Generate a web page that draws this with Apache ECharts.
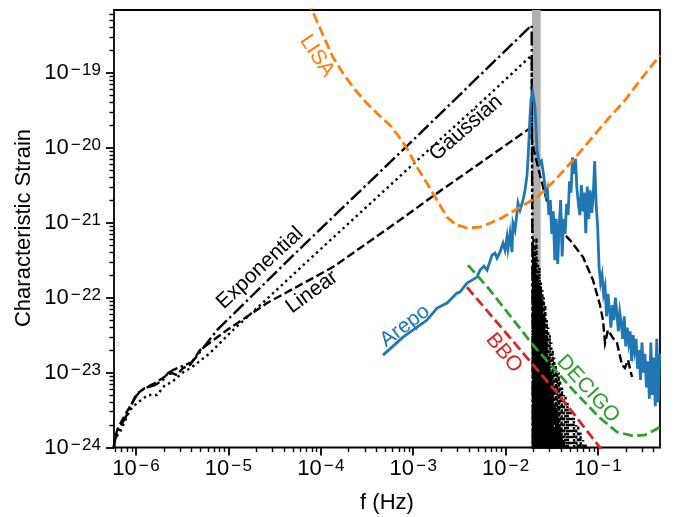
<!DOCTYPE html>
<html>
<head>
<meta charset="utf-8">
<script src="https://cdn.jsdelivr.net/npm/echarts@6/dist/echarts.min.js"></script>
<style>
html, body { margin: 0; padding: 0; background: #fff; }
#main { width: 676px; height: 517px; }
</style>
</head>
<body>
<div id="main"></div>
<script>
// every value below is a log10: f in Hz, h = characteristic strain
var xTicks = [-6, -5, -4, -3, -2, -1];
var yTicks = [-24, -23, -22, -21, -20, -19];
var xRange = [-6.238, -0.329];
var yRange = [-24, -18.163];

// grey band round the peak
var bandF = [-1.714, -1.620];

// Exponential (dash-dot)
var expRiseF = [-6.24, -6.227, -6.173, -6.087, -6.011, -5.935, -5.870, -5.794, -5.708, -5.654, -5.600, -5.470, -5.394, -5.307, -5.123, -4.225, -3.013, -2.277, -1.718];
var expRiseH = [-24.0, -23.90, -23.727, -23.54, -23.327, -23.233, -23.193, -23.167, -23.10, -23.007, -22.967, -22.90, -22.86, -22.727, -22.433, -21.348, -19.913, -19.033, -18.367];
var expTailF = [-1.714, -1.710, -1.706, -1.702, -1.698, -1.694, -1.690, -1.686, -1.682, -1.678, -1.674, -1.670, -1.666, -1.662, -1.658, -1.654, -1.650, -1.646, -1.642, -1.638, -1.634, -1.630, -1.626, -1.622, -1.618, -1.614, -1.610, -1.606, -1.602, -1.598, -1.594, -1.590, -1.586, -1.582, -1.578, -1.574, -1.570, -1.566, -1.562, -1.558, -1.554, -1.550, -1.546, -1.542, -1.538, -1.534, -1.530, -1.526, -1.522, -1.518, -1.512, -1.506, -1.500, -1.494, -1.488, -1.482, -1.476, -1.468, -1.460, -1.452, -1.444, -1.436, -1.426, -1.416, -1.406, -1.396, -1.384, -1.372, -1.360, -1.345, -1.330];
var expTailH = [-20.2, -21.3, -24.5, -21.4, -23.9, -21.5, -24.6, -21.6, -23.5, -21.5, -24.4, -21.7, -24.6, -21.8, -23.8, -21.7, -24.5, -21.9, -24.2, -21.8, -24.6, -22.0, -23.7, -21.9, -24.5, -22.1, -24.3, -22.0, -24.6, -22.2, -23.9, -22.3, -24.5, -22.2, -24.1, -22.5, -24.6, -22.6, -24.0, -22.5, -24.5, -22.8, -24.2, -22.9, -24.6, -22.8, -24.3, -23.0, -24.5, -23.1, -24.4, -23.0, -24.6, -23.3, -24.2, -23.2, -24.5, -23.4, -24.3, -23.5, -24.6, -23.6, -24.4, -23.7, -24.5, -23.8, -24.4, -23.9, -24.5, -24.0, -24.5];

// Gaussian (dotted)
var gauRiseF = [-6.24, -6.227, -6.173, -6.065, -5.989, -5.870, -5.773, -5.686, -5.610, -5.502, -5.394, -5.199, -4.950, -4.582, -4.225, -3.684, -3.013, -2.277, -1.718];
var gauRiseH = [-24.0, -23.873, -23.793, -23.50, -23.407, -23.30, -23.30, -23.167, -23.127, -23.007, -22.927, -22.74, -22.433, -22.017, -21.607, -20.993, -20.233, -19.407, -18.767];
var gauTailF = [-1.714, -1.710, -1.704, -1.698, -1.690, -1.682, -1.674, -1.666, -1.658, -1.650, -1.642, -1.634, -1.626, -1.618, -1.610, -1.602, -1.594, -1.586, -1.578, -1.570, -1.562, -1.554, -1.546, -1.538, -1.530, -1.522, -1.514, -1.506, -1.498, -1.490, -1.482, -1.474, -1.466, -1.458, -1.450, -1.442, -1.434, -1.426, -1.418, -1.410, -1.400, -1.390, -1.380, -1.370, -1.360, -1.350, -1.340, -1.330, -1.320, -1.310, -1.298, -1.286, -1.274, -1.262, -1.250, -1.238, -1.226, -1.214, -1.202, -1.190, -1.176, -1.162, -1.148, -1.134, -1.120, -1.105, -1.090];
var gauTailH = [-20.0, -21.0, -24.5, -21.2, -24.3, -21.3, -24.6, -21.2, -23.9, -21.5, -24.5, -21.6, -24.2, -21.8, -24.6, -21.9, -24.0, -22.0, -24.5, -22.1, -24.3, -22.3, -24.6, -22.4, -24.1, -22.5, -24.5, -22.6, -24.4, -22.7, -24.6, -22.8, -24.2, -22.9, -24.5, -23.0, -24.3, -23.0, -24.6, -23.1, -24.4, -23.2, -24.5, -23.3, -24.2, -23.3, -24.6, -23.4, -24.4, -23.5, -24.5, -23.5, -24.3, -23.6, -24.6, -23.7, -24.4, -23.7, -24.5, -23.8, -24.4, -23.9, -24.5, -23.95, -24.4, -24.0, -24.5];

// Linear (dashed)
var linF = [-6.24, -6.227, -6.195, -6.119, -6.043, -5.978, -5.903, -5.794, -5.708, -5.665, -5.610, -5.556, -5.491, -5.416, -5.307, -5.015, -4.582, -3.868, -3.175, -2.742, -2.277, -1.768, -1.736, -1.693, -1.628, -1.541, -1.433, -1.303, -1.162, -1.054, -0.978, -0.946, -0.924, -0.892, -0.838, -0.794, -0.740, -0.708, -0.675, -0.632];
var linH = [-24.0, -23.86, -23.74, -23.567, -23.407, -23.273, -23.207, -23.14, -23.073, -23.033, -23.007, -23.033, -22.94, -22.90, -22.70, -22.433, -22.073, -21.593, -20.993, -20.607, -20.207, -19.767, -19.74, -20.033, -20.367, -20.767, -21.073, -21.233, -21.46, -21.767, -22.10, -22.30, -22.607, -22.433, -22.54, -22.607, -22.90, -22.94, -22.833, -23.06];

// Arepo (solid blue): rise up to the peak, then the noisy tail
var arepoRiseF = [-3.327, -3.110, -2.851, -2.742, -2.634, -2.526, -2.494, -2.418, -2.364, -2.310,
  -2.277, -2.234, -2.201, -2.147, -2.115, -2.093, -2.061, -2.028, -2.006, -1.985,
  -1.974, -1.952, -1.931, -1.920, -1.898, -1.877, -1.866, -1.844, -1.812, -1.790,
  -1.768, -1.758, -1.747, -1.736, -1.725, -1.707, -1.682];
var arepoRiseH = [-22.767, -22.527, -22.30, -22.14, -22.073, -21.94, -21.927, -21.807, -21.767, -21.727,
  -21.633, -21.58, -21.633, -21.433, -21.407, -21.473, -21.393, -21.273, -21.367, -21.193,
  -21.34, -21.14, -21.393, -21.007, -21.10, -20.873, -20.74, -20.833, -20.70, -20.567,
  -20.367, -20.167, -19.90, -19.593, -19.367, -19.26, -19.46];
var arepoTailF = [-1.660, -1.644, -1.628, -1.612, -1.596, -1.580, -1.564, -1.548, -1.532, -1.516,
  -1.500, -1.484, -1.468, -1.452, -1.436, -1.420, -1.404, -1.388, -1.372, -1.356,
  -1.340, -1.324, -1.308, -1.292, -1.276, -1.260, -1.244, -1.228, -1.212, -1.196,
  -1.180, -1.164, -1.148, -1.132, -1.116, -1.100, -1.084, -1.068, -1.052, -1.036,
  -1.020, -1.004, -0.988, -0.972, -0.956, -0.940, -0.924, -0.908, -0.892, -0.876,
  -0.860, -0.844, -0.828, -0.812, -0.796, -0.780, -0.764, -0.748, -0.732, -0.716,
  -0.700, -0.684, -0.668, -0.652, -0.636, -0.620, -0.604, -0.588, -0.572, -0.556,
  -0.540, -0.524, -0.508, -0.492, -0.476, -0.460, -0.444, -0.428, -0.412, -0.396,
  -0.380, -0.364, -0.348, -0.332];
var arepoTailH = [-20.03, -20.15, -20.21, -20.18, -20.30, -20.45, -20.62, -20.55, -20.90, -20.70,
  -21.15, -20.85, -21.50, -20.95, -21.55, -21.05, -20.70, -21.45, -20.95, -21.15,
  -20.75, -20.90, -20.45, -20.60, -20.13, -20.35, -20.15, -20.55, -20.75, -20.90,
  -20.50, -20.85, -20.60, -21.14, -20.52, -20.95, -20.57, -20.87, -20.65, -20.18,
  -20.75, -21.05, -21.60, -21.80, -21.70, -21.95, -21.85, -22.25, -21.95, -22.15,
  -22.40, -22.10, -22.30, -22.00, -22.20, -22.45, -22.20, -22.35, -22.55, -22.25,
  -22.65, -22.40, -22.60, -22.45, -22.85, -22.50, -22.70, -22.55, -22.95, -22.70,
  -23.10, -22.60, -23.00, -22.75, -23.20, -22.85, -23.35, -22.60, -23.30, -22.80,
  -23.45, -22.55, -23.40, -22.75];

// detector sensitivity curves
var lisaF = [-4.139, -4.084, -3.976, -3.868, -3.760, -3.652, -3.522, -3.392, -3.251, -3.143, -3.056, -2.959, -2.872, -2.786, -2.710, -2.634, -2.548, -2.418, -2.277, -2.169, -2.028, -1.844, -1.660, -1.465, -1.271, -1.087, -0.903, -0.708, -0.545, -0.329];
var lisaH = [-18.033, -18.193, -18.50, -18.793, -19.007, -19.193, -19.38, -19.54, -19.70, -19.873, -20.033, -20.26, -20.433, -20.607, -20.767, -20.927, -21.02, -21.073, -21.06, -21.007, -20.927, -20.793, -20.66, -20.433, -20.167, -19.90, -19.633, -19.367, -19.10, -18.767];
var decigoF = [-2.407, -2.169, -1.703, -1.271, -0.978, -0.794, -0.621, -0.491, -0.405, -0.329];
var decigoH = [-21.567, -21.90, -22.633, -23.233, -23.607, -23.793, -23.847, -23.833, -23.78, -23.727];
var bboF = [-2.418, -1.682, -1.379, -1.000, -0.870];
var bboH = [-21.86, -22.927, -23.367, -23.967, -24.167];

var FONT = '"Liberation Sans", Arial, Helvetica, sans-serif';

function zip(xs, ys) {
  var out = [];
  for (var i = 0; i < Math.min(xs.length, ys.length); i++) out.push([xs[i], ys[i]]);
  return out;
}

function minorTicks(lo, hi) {
  var out = [];
  for (var n = Math.floor(lo) - 1; n <= Math.ceil(hi); n++) {
    for (var k = 2; k <= 9; k++) {
      var v = n + Math.log10(k);
      if (v > lo && v < hi) out.push(v);
    }
  }
  return out;
}

function powLabel(v) {
  return '{b|10}{s|\u2212\u200a' + Math.abs(Math.round(v)) + '}';
}

var labelRich = {
  b: { fontSize: 22, fontFamily: FONT, color: '#000', verticalAlign: 'bottom', lineHeight: 22 },
  s: { fontSize: 17, fontFamily: FONT, color: '#000', verticalAlign: 'top', lineHeight: 17, padding: [0, 0, 9, 2] }
};

function line(data, color, width, dash, z) {
  return {
    type: 'line', data: data, showSymbol: false, symbol: 'none', silent: true,
    clip: true, z: z, animation: false,
    lineStyle: { color: color, width: width, type: dash, cap: 'butt', join: 'miter' }
  };
}

var chart = echarts.init(document.getElementById('main'), null, { renderer: 'canvas' });

var deg = Math.PI / 180;
function tag(text, x, y, angle, color) {
  return {
    type: 'text', x: x, y: y, rotation: angle * deg, z: 100,
    style: { text: text, fill: color, fontSize: 21, fontFamily: FONT, align: 'center', verticalAlign: 'middle' }
  };
}

chart.setOption({
  animation: false,
  backgroundColor: '#fff',
  grid: { left: 114, right: 16, top: 10, bottom: 69.5, show: true, borderColor: '#000', borderWidth: 1.8, backgroundColor: 'transparent' },
  xAxis: [{
    type: 'value', min: xRange[0], max: xRange[1],
    axisLine: { show: false },
    splitLine: { show: false },
    axisTick: { show: true, length: 8, lineStyle: { color: '#000', width: 1.8 }, customValues: xTicks },
    axisLabel: { show: true, margin: 10, customValues: xTicks, formatter: powLabel, rich: labelRich }
  }, {
    type: 'value', min: xRange[0], max: xRange[1], position: 'bottom',
    axisLine: { show: false }, splitLine: { show: false },
    axisTick: { show: true, length: 4.5, lineStyle: { color: '#000', width: 1.4 }, customValues: minorTicks(xRange[0], xRange[1]) },
    axisLabel: { show: false }
  }],
  yAxis: [{
    type: 'value', min: yRange[0], max: yRange[1],
    axisLine: { show: false },
    splitLine: { show: false },
    axisTick: { show: true, length: 8, lineStyle: { color: '#000', width: 1.8 }, customValues: yTicks },
    axisLabel: { show: true, margin: 13, customValues: yTicks, formatter: powLabel, rich: labelRich }
  }, {
    type: 'value', min: yRange[0], max: yRange[1], position: 'left',
    axisLine: { show: false }, splitLine: { show: false },
    axisTick: { show: true, length: 4.5, lineStyle: { color: '#000', width: 1.4 }, customValues: minorTicks(yRange[0], yRange[1]) },
    axisLabel: { show: false }
  }],
  series: [
    {
      type: 'line', data: [], z: 1, silent: true,
      markArea: {
        silent: true,
        itemStyle: { color: '#b0b0b0', opacity: 1 },
        data: [[{ xAxis: bandF[0] }, { xAxis: bandF[1] }]]
      }
    },
    line(zip(expRiseF.concat(expTailF), expRiseH.concat(expTailH)), '#000', 2.4, [14, 3.5, 2.4, 3.5], 3),
    line(zip(gauRiseF.concat(gauTailF), gauRiseH.concat(gauTailH)), '#000', 2.4, [2.4, 3.6], 3),
    line(zip(linF, linH), '#000', 2.4, [8.5, 3.6], 3),
    line(zip(arepoRiseF.concat(arepoTailF), arepoRiseH.concat(arepoTailH)), '#1f77b4', 2.8, 'solid', 4),
    line(zip(lisaF, lisaH), '#ff7f0e', 2.8, [10, 4.4], 5),
    line(zip(decigoF, decigoH), '#2ca02c', 2.8, [10, 4.4], 5),
    line(zip(bboF, bboH), '#d62728', 2.8, [10, 4.4], 5)
  ],
  graphic: [
    tag('LISA', 317, 56, -56, '#ff7f0e'),
    tag('Gaussian', 466, 128, 41, '#000'),
    tag('Exponential', 260, 268, 43, '#000'),
    tag('Linear', 312, 292, 36, '#000'),
    tag('Arepo', 405, 326, 37, '#1f77b4'),
    tag('BBO', 504, 353, -50, '#d62728'),
    tag('DECIGO', 588, 389, -48, '#2ca02c'),
    {
      type: 'text', x: 387, y: 503, z: 100,
      style: { text: 'f (Hz)', fill: '#000', fontSize: 22, fontFamily: FONT, align: 'center', verticalAlign: 'middle' }
    },
    {
      type: 'text', x: 24, y: 228, rotation: 90 * deg, z: 100,
      style: { text: 'Characteristic Strain', fill: '#000', fontSize: 22, fontFamily: FONT, align: 'center', verticalAlign: 'middle' }
    }
  ]
});
</script>
</body>
</html>
